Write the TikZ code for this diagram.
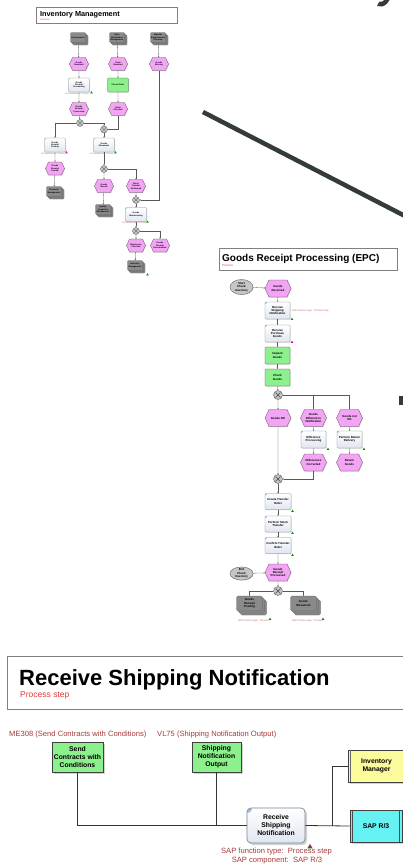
\documentclass[tikz,border=0pt]{standalone}
\usepackage{fontspec}
\setmainfont{Liberation Sans}
\usetikzlibrary{shapes.symbols,shapes.geometric,shadows,arrows.meta}
\definecolor{evpink}{HTML}{F4A4F4}
\definecolor{fnblue}{HTML}{E0E6F0}
\definecolor{fnedge}{HTML}{7A8594}
\definecolor{cornblue}{HTML}{A9BCDD}
\definecolor{grn}{HTML}{8CF08C}
\definecolor{docgray}{HTML}{8A8A8A}
\definecolor{xorgray}{HTML}{C4C4C4}
\definecolor{sapred}{HTML}{A83A3A}
\definecolor{lblred}{HTML}{B86868}
\definecolor{titred}{HTML}{E33B3B}
\definecolor{yel}{HTML}{FCFC9C}
\definecolor{cyn}{HTML}{66F2F2}
\definecolor{slate}{HTML}{343B3B}
\newcommand\fA{\fontsize{2.1}{2.4}\selectfont\bfseries}
\newcommand\fB{\fontsize{2.9}{3.3}\selectfont\bfseries}
\newcommand\fC{\fontsize{6.8}{8}\selectfont\bfseries}
\tikzset{
  evt/.style={signal, signal to=east and west, signal pointer angle=130, draw=black!70, fill=evpink,
    line width=0.25pt, inner sep=0pt, align=center,
    drop shadow={shadow xshift=0.6pt, shadow yshift=-0.6pt, fill=black!30}},
  evA/.style={evt, minimum width=19pt, minimum height=13pt, font=\fA},
  evB/.style={evt, minimum width=26pt, minimum height=17pt, font=\fB},
  fnbase/.style={rectangle, rounded corners=1pt, draw=fnedge, top color=white, bottom color=fnblue,
    line width=0.25pt, inner sep=0pt, align=center,
    drop shadow={shadow xshift=0.6pt, shadow yshift=-0.6pt, fill=black!30}},
  fnA/.style={fnbase, minimum width=21pt, minimum height=14pt, font=\fA,
    path picture={\fill[cornblue] (path picture bounding box.north west) -- ++(2pt,0) -- ++(-2pt,-2pt) -- cycle;}},
  fnB/.style={fnbase, minimum width=25pt, minimum height=17pt, font=\fB,
    path picture={\fill[cornblue] (path picture bounding box.north west) -- ++(2.6pt,0) -- ++(-2.6pt,-2.6pt) -- cycle;}},
  grbase/.style={rectangle, rounded corners=1pt, draw=black!70, fill=grn, line width=0.25pt,
    inner sep=0pt, align=center,
    drop shadow={shadow xshift=0.6pt, shadow yshift=-0.6pt, fill=black!30}},
  grA/.style={grbase, minimum width=21pt, minimum height=14pt, font=\fA},
  grB/.style={grbase, minimum width=25pt, minimum height=17pt, font=\fB},
  docA/.style={rectangle, rounded corners=1pt, draw=black!65, fill=docgray, line width=0.25pt,
    inner sep=0pt, align=center, minimum width=15pt, minimum height=10pt, font=\fA,
    double copy shadow={shadow xshift=1.3pt, shadow yshift=-1.3pt}},
  docB/.style={rectangle, rounded corners=1.5pt, draw=black!65, fill=docgray, line width=0.3pt,
    inner sep=0pt, align=center, minimum width=26pt, minimum height=15pt, font=\fB,
    double copy shadow={shadow xshift=2pt, shadow yshift=-2pt}},
  xorA/.style={circle, draw=black!70, fill=xorgray, inner sep=0pt, line width=0.3pt, minimum size=7pt,
    path picture={\draw[line width=0.3pt] ([xshift=1.6pt,yshift=-1.6pt]path picture bounding box.north west) -- ([xshift=-1.6pt,yshift=1.6pt]path picture bounding box.south east);
      \draw[line width=0.3pt] ([xshift=1.6pt,yshift=1.6pt]path picture bounding box.south west) -- ([xshift=-1.6pt,yshift=-1.6pt]path picture bounding box.north east);}},
  xorB/.style={circle, draw=black!70, fill=xorgray, inner sep=0pt, line width=0.35pt, minimum size=9pt,
    path picture={\draw[line width=0.4pt] ([xshift=2.1pt,yshift=-2.1pt]path picture bounding box.north west) -- ([xshift=-2.1pt,yshift=2.1pt]path picture bounding box.south east);
      \draw[line width=0.4pt] ([xshift=2.1pt,yshift=2.1pt]path picture bounding box.south west) -- ([xshift=-2.1pt,yshift=-2.1pt]path picture bounding box.north east);}},
  evS/.style={ellipse, draw=black!70, fill=gray!45, line width=0.3pt, inner sep=0pt, align=center,
    minimum width=23pt, minimum height=15pt, font=\fB,
    drop shadow={shadow xshift=0.6pt, shadow yshift=-0.6pt, fill=black!30}},
  cA/.style={draw=black!65, line width=0.3pt, -{Stealth[length=1.4pt,width=1.2pt]}},
  cN/.style={draw=black!65, line width=0.3pt},
  lblA/.style={font=\fontsize{1.9}{2.2}\selectfont, text=lblred, inner sep=0pt},
  lblB/.style={font=\fontsize{2.5}{2.8}\selectfont, text=lblred, inner sep=0pt},
  sapico/.pic={\fill[green!55!black] (-1.3,0.9) -- (1.3,0.9) -- (0,-1.3) -- cycle;
               \fill[magenta] (-0.5,-0.4) rectangle (0.5,0.3);},
  boxC/.style={rectangle, draw=black!75, line width=0.7pt, inner sep=0pt, align=center, font=\fC,
    drop shadow={shadow xshift=2pt, shadow yshift=-2pt, fill=black!35}},
  conC/.style={draw=black!80, line width=0.8pt},
}
\begin{document}
\begin{tikzpicture}[x=1pt,y=-1pt]
\useasboundingbox (0,0) rectangle (403,865);
\fill[white] (0,0) rectangle (403,865);

% ================= Section 1: Inventory Management =================
\draw[black!50, line width=0.4pt] (36,7) rectangle (177,23);
\node[anchor=base west, inner sep=0pt, font=\fontsize{7.3}{8}\selectfont\bfseries] (t1) at (40,16) {Inventory Management};
\node[anchor=base west, inner sep=0pt, font=\fontsize{2.4}{2.6}\selectfont, text=titred] (s1) at (40,20.5) {Scenario};

\node[docA] (g1a) at (78,37.5) {Procurement};
\node[docA] (g2a) at (117,37.5) {Sales\\Distribution\\Management};
\node[docA] (g3a) at (158,37.5) {Material\\Requirements\\Planning};
\node[evA] (e1a) at (79,64) {Goods\\Received};
\node[evA] (e2a) at (118,64) {Order\\Received};
\node[evA] (e3a) at (159,64) {Goods\\Missing};
\node[fnA] (f1a) at (79,85) {Goods\\Receipt\\Processing};
\node[grA] (f2a) at (118,85) {Check Order};
\node[evA] (e1b) at (79,109) {Goods\\Receipt\\Processed};
\node[evA] (e2b) at (118,109) {Order\\Checked};
\node[xorA] (x1) at (80,123) {};
\node[xorA] (x2) at (104,129.5) {};
\node[fnA] (f1b) at (55,145) {Goods\\Receipt\\Posting};
\node[fnA] (f1c) at (104,145) {Goods\\Movement};
\node[evA] (e1c) at (55,168.5) {Goods\\Receipt\\Posted};
\node[xorA] (x3) at (104,169) {};
\node[docA] (g1b) at (54,191.5) {Financial\\Management};
\node[evA] (e1d) at (104,186) {Goods\\Moved};
\node[evA] (e1e) at (136,186) {Stock\\Transfer\\Performed};
\node[docA] (g1c) at (103,209.5) {Quality\\Inspection\\Management};
\node[xorA] (x4) at (136,200) {};
\node[fnA] (f1d) at (136,214.5) {Goods\\Warehousing};
\node[xorA] (x5) at (136,231) {};
\node[evA] (e1f) at (136,245.5) {Warehouse\\Checked};
\node[evA] (e1g) at (160,245.5) {Goods\\Receipt\\Documented};
\node[docA] (g1d) at (135,265.5) {Inventory\\Management};

\node[lblA] (l1a) at (77,93.6) {SAP function type:\ \ Process};
\node[lblA] (l1b) at (53,153.6) {SAP function type:\ \ Process};
\node[lblA] (l1c) at (102,153.6) {SAP function type:\ \ Process};
\node[lblA] (l1d) at (134,222.8) {SAP function type:\ \ Process};
\pic at (91.5,92.5) {sapico};
\pic at (66.5,152.5) {sapico};
\pic at (115.5,152.5) {sapico};
\pic at (147.5,221.8) {sapico};
\pic at (147.5,274.5) {sapico};

\draw[cA] (g1a) -- (e1a);
\draw[cA] (e1a) -- (f1a);
\draw[cA] (f1a) -- (e1b);
\draw[cA] (e1b) -- (x1);
\draw[cA] (x1) -| (f1b);
\draw[cA] (x1) -| (x2);
\draw[cA] (e2b) |- (x2);
\draw[cA] (g2a) -- (e2a);
\draw[cA] (e2a) -- (f2a);
\draw[cA] (f2a) -- (e2b);
\draw[cA] (g3a) -- (e3a);
\draw[cA] (f1b) -- (e1c);
\draw[cA] (e1c) -- (g1b);
\draw[cA] (x2) -- (f1c);
\draw[cA] (f1c) -- (x3);
\draw[cA] (x3) -- (e1d);
\draw[cA] (x3) -| (e1e);
\draw[cA] (e1d) -- (g1c);
\draw[cA] (e1e) -- (x4);
\draw[cA] (e3a) |- (x4);
\draw[cA] (x4) -- (f1d);
\draw[cA] (f1d) -- (x5);
\draw[cA] (x5) -- (e1f);
\draw[cA] (x5) -| (e1g);
\draw[cA] (e1f) -- (g1d);

% ================= decorative dark strokes =================
\draw[slate, line width=4.5pt] (203,112) -- (412,219.6);
\fill[slate] (377,6) -- (382,6.5) .. controls (386,5.5) and (388,3) .. (390,-1) -- (385,-1) .. controls (384,1) and (382,2) .. (379,2) -- cycle;
\fill[slate] (399,396) rectangle (404,405);

% ================= Section 2: Goods Receipt Processing (EPC) =================
\draw[black!50, line width=0.4pt] (219,248) rectangle (397,270);
\node[anchor=base west, inner sep=0pt, font=\fontsize{10}{11}\selectfont\bfseries] (t2) at (222,261) {Goods Receipt Processing (EPC)};
\node[anchor=base west, inner sep=0pt, font=\fontsize{3}{3.3}\selectfont, text=titred] (s2) at (222,266) {Process};

\node[evS] (st) at (241.5,287) {Start\\Check\\Inventory};
\node[evB] (ea) at (278,288.5) {Goods\\Received};
\node[fnB] (fa) at (277.5,310.5) {Receive\\Shipping\\Notification};
\node[fnB] (fb) at (277.5,333.5) {Receive\\Purchase\\Goods};
\node[grB] (ga) at (277.5,355.5) {Unpack\\Goods};
\node[grB] (gb) at (277.5,377.5) {Check\\Goods};
\node[xorB] (xa) at (278,395) {};
\node[evB] (eok) at (278,418) {Goods OK};
\node[evB] (edf) at (313.5,418) {Goods\\Different to\\Notification};
\node[evB] (enk) at (349.5,418) {Goods not\\OK};
\node[fnB] (fdf) at (313.5,439.5) {Difference\\Processing};
\node[fnB] (frt) at (349.5,439.5) {Perform Return\\Delivery};
\node[evB] (ecr) at (313.5,462.5) {Differences\\Corrected};
\node[evB] (erg) at (349.5,462.5) {Return\\Goods};
\node[xorB] (xb) at (278,479) {};
\node[fnB, minimum width=26pt, minimum height=16pt] (fct) at (278,501.5) {Create Transfer\\Order};
\node[fnB, minimum width=26pt, minimum height=16pt] (fps) at (278,524) {Perform Stock\\Transfer};
\node[fnB, minimum width=26pt, minimum height=16pt] (fcf) at (278,545.5) {Confirm Transfer\\Order};
\node[evB] (egp) at (278,572.5) {Goods\\Receipt\\Processed};
\node[evS, minimum height=13pt] (en) at (241.5,573.5) {End\\Check\\Inventory};
\node[xorB] (xc) at (278,591) {};
\node[docB] (dgp) at (249.5,603.5) {Goods\\Receipt\\Posting};
\node[docB] (dgm) at (303.5,603.5) {Goods\\Movement};

\node[lblB, anchor=west] (lfa) at (292,311) {SAP function type:\ \ Process step};
\node[lblB] (ldp) at (253.5,620.5) {SAP function type:\ \ Process};
\node[lblB] (ldm) at (307.5,620.5) {SAP function type:\ \ Process};
\pic at (292,319) {sapico};
\pic at (292,342) {sapico};
\pic at (328,449) {sapico};
\pic at (364,449) {sapico};
\pic at (292.5,511) {sapico};
\pic at (292.5,533) {sapico};
\pic at (292.5,555) {sapico};
\pic at (270,619) {sapico};
\pic at (323,619) {sapico};

\draw[cA] (st) -- (ea);
\draw[cA] (ea) -- (fa);
\draw[cA] (fa) -- (fb);
\draw[cA] (fb) -- (ga);
\draw[cA] (ga) -- (gb);
\draw[cA] (gb) -- (xa);
\draw[cA] (xa) -- (eok);
\draw[cA] (xa) -| (edf);
\draw[cA] (xa) -| (enk);
\draw[cA] (edf) -- (fdf);
\draw[cA] (fdf) -- (ecr);
\draw[cA] (enk) -- (frt);
\draw[cA] (frt) -- (erg);
\draw[cA] (eok) -- (xb);
\draw[cA] (ecr) |- (xb);
\draw[cA] (xb) -- (fct);
\draw[cA] (fct) -- (fps);
\draw[cA] (fps) -- (fcf);
\draw[cA] (fcf) -- (egp);
\draw[cA] (en) -- (egp);
\draw[cA] (egp) -- (xc);
\draw[cA] (xc) -| (dgp);
\draw[cA] (xc) -| (dgm);

% ================= Section 3: Receive Shipping Notification =================
\draw[black!50, line width=0.6pt] (7,656) -- (410,656) (7,656) -- (7,709) -- (410,709);
\node[anchor=base west, inner sep=0pt, font=\fontsize{22}{24}\selectfont\bfseries] (t3) at (19,685.5) {Receive Shipping Notification};
\node[anchor=base west, inner sep=0pt, font=\fontsize{8.5}{9}\selectfont, text=titred] (s3) at (20,697) {Process step};

\node[anchor=west, inner sep=0pt, font=\fontsize{7.6}{8}\selectfont, text=sapred] (lme) at (9,735) {ME308 (Send Contracts with Conditions)};
\node[anchor=west, inner sep=0pt, font=\fontsize{7.6}{8}\selectfont, text=sapred] (lvl) at (157,735) {VL75 (Shipping Notification Output)};

\node[boxC, fill=grn, minimum width=51pt, minimum height=30pt] (snd) at (77.5,757) {Send\\Contracts with\\Conditions};
\node[boxC, fill=grn, minimum width=49pt, minimum height=30pt] (shp) at (216.5,757) {Shipping\\Notification\\Output};
\node[boxC, fill=yel, minimum width=57pt, minimum height=32pt] (inv) at (376.5,766) {Inventory\\Manager};
\draw[black!60, line width=0.4pt] ([xshift=2.5pt]inv.north west) -- ([xshift=2.5pt]inv.south west);
\node[boxC, fill=cyn, minimum width=52pt, minimum height=32pt] (sap) at (376,826) {SAP R/3};
\draw[black!70, line width=0.5pt] ([xshift=3pt]sap.north west) -- ([xshift=3pt]sap.south west)
  ([xshift=-3pt]sap.north east) -- ([xshift=-3pt]sap.south east);
\node[rectangle, rounded corners=4pt, draw=fnedge, line width=0.7pt, top color=white, bottom color=fnblue,
  minimum width=58pt, minimum height=35pt, inner sep=0pt, align=center, font=\fC,
  drop shadow={shadow xshift=2pt, shadow yshift=-2pt, fill=black!35},
  path picture={\fill[cornblue] (path picture bounding box.north west) -- ++(7pt,0) -- ++(-7pt,-7pt) -- cycle;}]
  (rsn) at (276,825.5) {Receive\\Shipping\\Notification};

\coordinate (br) at (332,826);
\draw[conC] (snd.south) |- (rsn.west);
\draw[conC] (shp.south) -- (shp.south |- rsn.west);
\draw[conC] (rsn.east) -- (sap.west);
\draw[conC] (br) |- (inv.west);

\node[inner sep=0pt, font=\fontsize{7.6}{8}\selectfont, text=sapred] (lft) at (276.5,852) {SAP function type:\ \ Process step};
\node[inner sep=0pt, font=\fontsize{7.6}{8}\selectfont, text=sapred] (lcp) at (277,861) {SAP component:\ \ SAP R/3};
\pic[scale=2] at (310,846.5) {sapico};
\end{tikzpicture}
\end{document}
